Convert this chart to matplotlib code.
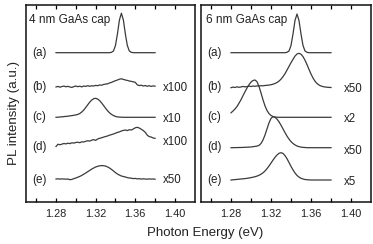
import numpy as np
import matplotlib
matplotlib.use("Agg")
import matplotlib.pyplot as plt

plt.rcParams['font.family'] = ['Liberation Sans', 'DejaVu Sans']

# Photon energy grid (eV)
energy = [round(1.280 + 0.002 * i, 3) for i in range(51)]

# ---- 4 nm GaAs cap (left panel), curves already offset (a.u.)
left_a = [149.3] * 28 + [149.7, 151.0, 156.5, 168.0, 182.0, 188.8, 182.0, 168.0,
                         156.5, 151.0, 149.7] + [149.3] * 12
left_b = [115.0, 115.6, 114.8, 115.5, 115.9, 115.2, 115.7, 115.0, 114.6, 115.4,
          116.0, 115.3, 115.8, 115.1, 116.0, 115.6, 116.3, 115.7, 116.2, 116.0,
          116.6, 116.3, 117.0, 116.8, 117.5, 117.9, 118.2, 119.0, 119.6, 120.5,
          121.3, 122.0, 122.8, 123.2, 122.6, 122.0, 121.6, 121.0, 120.6, 120.2,
          119.7, 117.2, 116.4, 116.8, 116.0, 116.5, 115.7, 116.3, 115.6, 116.1,
          115.8]
left_c = [84.7, 84.8, 85.0, 85.2, 85.4, 85.6, 85.8, 86.1, 86.4, 86.7,
          87.1, 87.6, 88.5, 90.0, 92.0, 94.5, 97.2, 99.8, 101.9, 103.3,
          103.7, 103.0, 101.4, 99.1, 96.5, 93.8, 91.3, 89.2, 87.6, 86.4,
          85.6, 85.1, 84.9, 84.8] + [84.7] * 17
left_d = [55.5, 57.8, 57.2, 57.9, 58.5, 58.1, 58.8, 58.4, 59.2, 58.9,
          59.5, 59.8, 59.3, 60.2, 60.0, 60.7, 61.3, 60.9, 61.8, 62.4,
          61.6, 63.0, 63.7, 64.2, 64.9, 65.5, 66.0, 66.8, 67.4, 68.0,
          68.8, 69.6, 70.1, 71.0, 71.6, 72.0, 71.4, 72.3, 72.0, 73.0,
          74.2, 74.7, 74.0, 72.8, 71.5, 69.8, 67.0, 65.4, 65.0, 64.0,
          63.7]
left_e = [23.0, 23.2, 22.9, 23.1, 23.0, 22.8, 23.0, 22.3, 22.6, 23.4,
          24.0, 24.8, 25.6, 26.6, 27.8, 29.0, 30.3, 31.6, 32.9, 34.0,
          35.0, 35.7, 36.2, 36.4, 36.3, 35.9, 35.1, 34.0, 32.6, 31.0,
          29.4, 28.0, 26.9, 26.0, 25.5, 25.0, 24.4, 24.0, 23.8, 23.4,
          23.6, 23.1, 23.3, 22.9, 23.2, 23.0, 22.8, 23.1, 22.9, 23.0,
          22.8]

# ---- 6 nm GaAs cap (right panel)
right_a = [149.3] * 28 + [149.7, 151.0, 156.5, 168.0, 181.5, 188.0, 181.5, 168.0,
                          156.5, 151.0, 149.7] + [149.3] * 12
right_b = [114.3, 114.9, 114.5, 115.2, 114.7, 115.0, 115.6, 115.1, 115.4, 115.9,
           115.5, 116.0, 115.7, 116.1, 116.0, 116.3, 116.2, 116.5, 116.7, 116.9,
           117.3, 117.8, 118.5, 119.5, 120.9, 122.8, 125.3, 128.3, 131.9, 135.6,
           139.3, 142.7, 145.9, 148.0, 148.7, 147.8, 145.4, 141.8, 137.4, 132.6,
           128.0, 124.0, 120.8, 118.5, 117.0, 116.0, 115.4, 115.0, 114.8, 114.6,
           114.5]
right_c = [89.2, 91.0, 93.0, 95.5, 98.8, 102.3, 106.3, 110.2, 114.0, 117.3,
           119.9, 121.5, 122.0, 120.3, 115.6, 109.1, 102.2, 96.1, 91.5, 88.4,
           86.5, 85.5, 85.0, 84.8] + [84.7] * 27
right_d = [54.3, 54.3, 54.4, 54.4, 54.5, 54.5, 54.6, 54.7, 54.8, 54.9,
           55.0, 55.3, 55.6, 55.9, 56.6, 58.5, 62.0, 67.0, 73.1, 79.1,
           83.6, 85.3, 84.7, 82.9, 80.2, 76.8, 73.1, 69.4, 65.9, 62.9,
           60.4, 58.5, 57.1, 56.0, 55.4, 54.9, 54.6, 54.5] + [54.3] * 13
right_e = [22.0, 22.2, 22.4, 22.6, 22.8, 23.0, 23.2, 23.4, 23.7, 24.0,
           24.4, 24.8, 25.3, 25.9, 26.7, 27.8, 29.2, 31.0, 33.3, 36.0,
           38.9, 41.9, 44.7, 47.0, 48.7, 49.3, 48.6, 46.4, 43.3, 39.5,
           35.6, 32.1, 29.0, 26.6, 24.9, 23.7, 23.0, 22.5, 22.3, 22.1] + [22.0] * 11

curve_labels = ["(a)", "(b)", "(c)", "(d)", "(e)"]
label_y = [149.3, 115.0, 85.0, 55.3, 22.0]

left_titles = "4 nm GaAs cap"
right_titles = "6 nm GaAs cap"
left_mult = ["", "x100", "x10", "x100", "x50"]
left_mult_y = [0, 113.7, 83.0, 60.3, 22.0]
right_mult = ["", "x50", "x2", "x50", "x5"]
right_mult_y = [0, 112.7, 83.0, 51.0, 20.3]

xticks = [1.26, 1.28, 1.30, 1.32, 1.34, 1.36, 1.38, 1.40]
xticklabels = ["", "1.28", "", "1.32", "", "1.36", "", "1.40"]

W, H = 373, 244
fig = plt.figure(figsize=(W / 100, H / 100), dpi=100)
ax1 = fig.add_axes([26.3 / W, (H - 202) / H, 168.4 / W, 197.3 / H])
ax2 = fig.add_axes([201 / W, (H - 202) / H, 170 / W, 197.3 / H])

line_color = "#3a3a3a"
text_color = "#222222"

panels = [
    (ax1, [left_a, left_b, left_c, left_d, left_e], left_titles, 1.2525,
     left_mult, left_mult_y, 1.3875),
    (ax2, [right_a, right_b, right_c, right_d, right_e], right_titles, 1.2555,
     right_mult, right_mult_y, 1.3925),
]
for ax, curves, title, tx, mults, mult_y, mx in panels:
    for ys in curves:
        ax.plot(energy, ys, color=line_color, lw=0.9)
    ax.set_xlim(1.25, 1.42)
    ax.set_ylim(0, 197.3)
    ax.set_yticks([])
    ax.set_xticks(xticks)
    ax.set_xticklabels(xticklabels, fontsize=7.9, color=text_color)
    ax.tick_params(axis="x", direction="in", top=True, length=3, width=0.9, pad=5)
    for sp in ax.spines.values():
        sp.set_linewidth(1.1)
        sp.set_color("#111111")
    ax.text(tx, 182, title, fontsize=8.5, va="center", ha="left", color=text_color)
    for lab, yy in zip(curve_labels, label_y):
        ax.text(1.2565, yy, lab, fontsize=8.4, va="center", ha="left", color=text_color)
    for m, yy in zip(mults, mult_y):
        if m:
            ax.text(mx, yy, m, fontsize=8.3, va="center", ha="left", color=text_color)

fig.text(14 / W, (H - 112.5) / H, "PL intensity (a.u.)", rotation=90,
         fontsize=9.6, va="center", ha="center", color=text_color)
fig.text(205 / W, (H - 233) / H, "Photon Energy (eV)", fontsize=9.5, va="center",
         ha="center", color=text_color)

fig.savefig("out.png", dpi=100)
